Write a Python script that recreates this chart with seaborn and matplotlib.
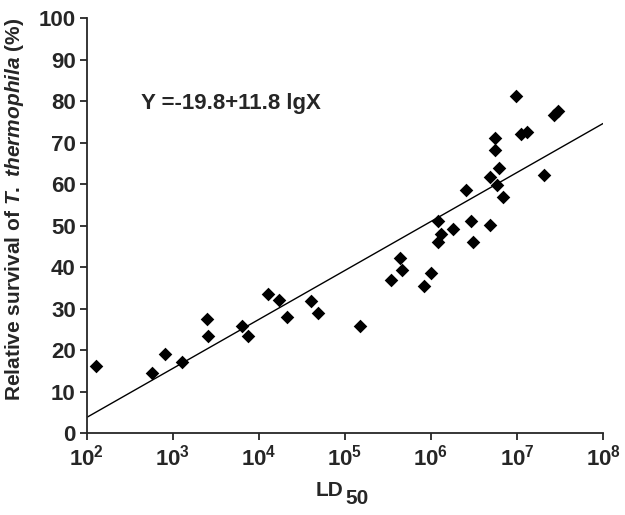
import numpy as np
import pandas as pd
import seaborn as sns
from matplotlib import pyplot as plt
from matplotlib.ticker import FixedLocator, NullLocator

# LD50 values and relative survival (%)
ld50 = [
    129, 575, 813, 1290, 2510, 2570, 6310, 7410, 12900, 17000,
    20900, 39800, 49000, 151000, 339000, 437000, 457000, 832000, 1.0e6, 1.2e6,
    1.2e6, 1.32e6, 1.82e6, 2.88e6, 3.09e6, 4.79e6, 2.57e6, 4.79e6, 5.5e6, 5.5e6,
    5.89e6, 6.17e6, 6.92e6, 9.77e6, 1.12e7, 1.32e7, 2.04e7, 2.69e7, 3.02e7,
]
survival = [
    16.2, 14.4, 19.0, 17.1, 27.4, 23.3, 25.9, 23.3, 33.5, 32.0,
    28.0, 31.8, 29.0, 25.8, 37.0, 42.1, 39.2, 35.4, 38.6, 46.1,
    51.0, 48.0, 49.1, 51.2, 46.1, 50.2, 58.6, 61.6, 71.0, 68.2,
    59.8, 63.8, 56.9, 81.2, 72.1, 72.6, 62.1, 76.6, 77.6,
]

# fitted line Y = a + b lgX
intercept = -19.8
slope = 11.8
fit_x = [1e2, 1e8]

x_ticks = [1e2, 1e3, 1e4, 1e5, 1e6, 1e7, 1e8]
x_tick_labels = [r"$\mathbf{10^{%d}}$" % e for e in range(2, 9)]
y_ticks = list(range(0, 101, 10))


def main():
    sns.set_style("ticks")
    plt.rcParams["font.family"] = ["Liberation Sans", "DejaVu Sans"]
    plt.rcParams["mathtext.fontset"] = "custom"
    plt.rcParams["mathtext.rm"] = "Liberation Sans:bold"
    plt.rcParams["mathtext.bf"] = "Liberation Sans:bold"
    plt.rcParams["mathtext.it"] = "Liberation Sans:italic:bold"

    df = pd.DataFrame({"ld50": ld50, "survival": survival})
    fit = pd.DataFrame({"x": fit_x})
    fit["y"] = intercept + slope * np.log10(fit["x"])

    fig = plt.figure(figsize=(6.25, 5.15), dpi=100)
    ax = fig.add_axes([0.139, 0.159, 0.826, 0.806])

    sns.lineplot(data=fit, x="x", y="y", color="black", linewidth=1.0, ax=ax)
    sns.scatterplot(data=df, x="ld50", y="survival", marker="D", color="black",
                    s=48, edgecolor="black", linewidth=0, ax=ax, zorder=3)

    ax.set_xscale("log")
    ax.set_xlim(1e2, 1e8)
    ax.set_ylim(0, 100)
    ax.xaxis.set_major_locator(FixedLocator(x_ticks))
    ax.xaxis.set_minor_locator(NullLocator())
    ax.set_xticklabels(x_tick_labels, fontsize=16)
    ax.set_yticks(y_ticks)
    ax.set_yticklabels([str(v) for v in y_ticks], fontsize=16, fontweight="bold")

    # x label: LD with a full-size, lowered "50"
    ax.set_xlabel("")
    fig.text(343 / 625, 1 - 491 / 515, "LD", fontsize=15, fontweight="bold",
             ha="right", va="center")
    fig.text(345 / 625, 1 - 499 / 515, "50", fontsize=15, fontweight="bold",
             ha="left", va="center")
    ax.set_ylabel(r"Relative survival of $\mathit{T.\ thermophila}$ (%)",
                  fontsize=15, fontweight="bold")
    ax.yaxis.set_label_coords(-0.118, 0.54)

    ax.text(430, 79.5, "Y =-19.8+11.8 lgX", fontsize=16, fontweight="bold",
            va="center", ha="left")

    sns.despine(ax=ax)
    for side in ["left", "bottom"]:
        ax.spines[side].set_linewidth(1.3)
    ax.tick_params(axis="both", direction="out", length=5, width=1.3, pad=3)

    fig.savefig("out.png", dpi=100)
    plt.close(fig)


if __name__ == "__main__":
    main()
